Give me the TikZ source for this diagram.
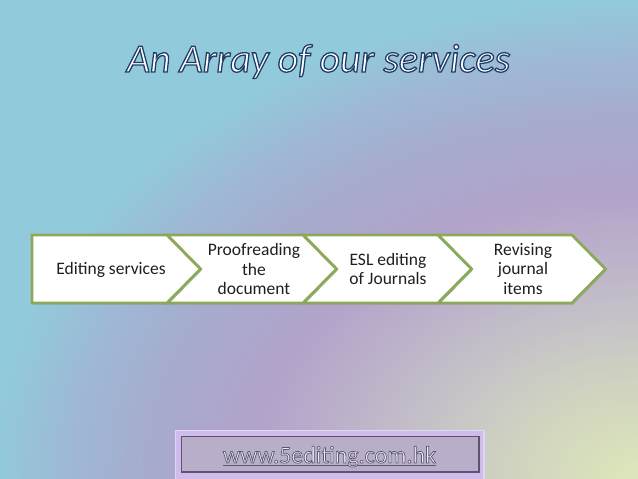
\documentclass[tikz,border=0pt]{standalone}
\usepackage{fontspec}
\setmainfont{Carlito}
\newfontfamily\titlefam[FakeBold=3.2]{Carlito}
\newfontfamily\urlfam[FakeBold=3]{Carlito}
\usetikzlibrary{calc,shadows}
\definecolor{bgA}{HTML}{DDE7B9}
\definecolor{bgB}{HTML}{CFD2C0}
\definecolor{bgC}{HTML}{C7C5C7}
\definecolor{bgD}{HTML}{BBB0CA}
\definecolor{bgE}{HTML}{B2A3CA}
\definecolor{bgF}{HTML}{A7ABCE}
\definecolor{bgG}{HTML}{9EB8D5}
\definecolor{bgH}{HTML}{91CBDB}
\definecolor{chevline}{HTML}{8CA95A}
\definecolor{urlfill}{HTML}{F0EAF8}
\definecolor{boxouter}{HTML}{D0BCEA}
\definecolor{boxedge}{HTML}{E2D6F2}
\definecolor{boxinner}{HTML}{B8AECA}
\definecolor{boxline}{HTML}{5E5272}
\pgfdeclareradialshading{bgshade}{\pgfpoint{0bp}{0bp}}{%
  color(0bp)=(bgA); color(100bp)=(bgB); color(150bp)=(bgC); color(230bp)=(bgD);
  color(285bp)=(bgE); color(360bp)=(bgF); color(420bp)=(bgG); color(480bp)=(bgH);
  color(1000bp)=(bgH)}
\newcommand{\titlestroke}{\special{pdf:literal direct 0.12 0.24 0.40 RG}}
\newcommand{\urlstroke}{\special{pdf:literal direct 0.36 0.35 0.44 RG}}
\tikzset{
  chev/.style={draw=chevline, line width=2.8pt, line join=miter, fill=white,
    drop shadow={opacity=0.25, shadow xshift=1.2pt, shadow yshift=-1.8pt}},
  chevtext/.style={font=\fontsize{17.5}{19.5}\selectfont, text=black!88, align=center, inner sep=0pt},
  titlefont/.style={font=\titlefam\itshape\fontsize{40}{44}\selectfont, anchor=base, inner sep=0pt},
  urlfont/.style={font=\urlfam\fontsize{24}{28}\selectfont, anchor=base, inner sep=0pt}
}
\newcommand{\urltext}{{\setbox0\hbox{www.5editing.com.hk}\rlap{\rule[-3.4pt]{\wd0}{1.3pt}}\box0}}
\begin{document}
\begin{tikzpicture}[x=1pt,y=-1pt]
\useasboundingbox (0,0) rectangle (638,479);
% background
\begin{scope}
  \clip (0,0) rectangle (638,479);
  \begin{scope}[shift={(638,479)}, xscale=1.35]
    \node[inner sep=0pt, transform shape] (bg) at (0,0) {\pgfuseshading{bgshade}};
  \end{scope}
\end{scope}
% title
\node[titlefont, text=white] (title) at (318.5,72) {\titlestroke An Array of our services};
% chevrons
\path[chev] (438,235) -- (572,235) -- (605.5,269) -- (572,303) -- (438,303) -- (471.5,269) -- cycle;
\path[chev] (303,235) -- (438,235) -- (471.5,269) -- (438,303) -- (303,303) -- (336.5,269) -- cycle;
\path[chev] (167,235) -- (303,235) -- (336.5,269) -- (303,303) -- (167,303) -- (200.5,269) -- cycle;
\path[chev] (32,235) -- (167,235) -- (200.5,269) -- (167,303) -- (32,303) -- cycle;
\node[chevtext] (c1) at (111,270) {Editing services};
\node[chevtext] (c2) at (254,269) {Proofreading\\the\\document};
\node[chevtext] (c3) at (388,269) {ESL editing\\of Journals};
\node[chevtext] (c4) at (523,269) {Revising\\journal\\items};
% url box
\path[fill=boxouter, draw=boxedge, line width=1.5pt] (175.5,430.5) rectangle (484,479.5);
\path[fill=boxinner, draw=boxline, line width=1.4pt] (181.5,436.5) rectangle (479,472);
\node[urlfont, text=urlfill] (url) at (329.5,463) {\urlstroke\urltext};
\end{tikzpicture}
\end{document}
